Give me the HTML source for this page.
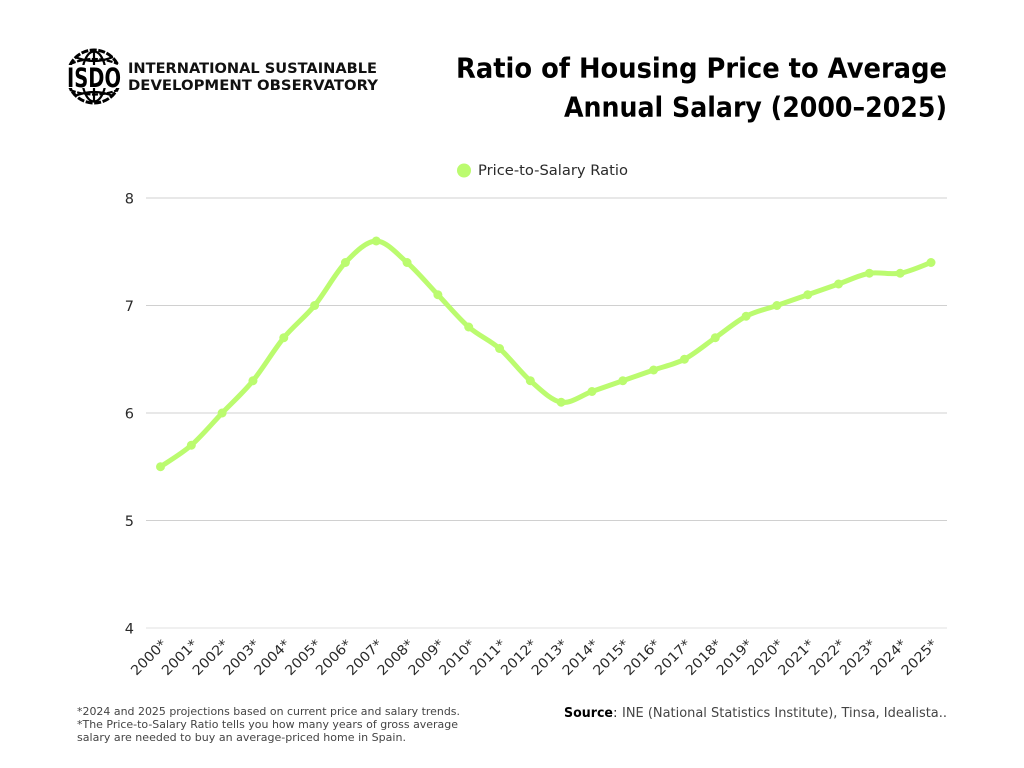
<!DOCTYPE html>
<html lang="en">
<head>
<meta charset="utf-8">
<title>Ratio of Housing Price to Average Annual Salary (2000–2025)</title>
<style>
html,body{margin:0;padding:0;background:#fff;}
body{width:1024px;height:768px;overflow:hidden;}
svg{display:block;}
text{font-family:"DejaVu Sans","Liberation Sans",sans-serif;fill:#2a2a2a;}
</style>
</head>
<body>
<svg id="chart" width="1024" height="768" viewBox="0 0 1024 768" xmlns="http://www.w3.org/2000/svg">
  <rect x="0" y="0" width="1024" height="768" fill="#ffffff"/>

  <g>
    <circle cx="94" cy="76.5" r="26.5" fill="none" stroke="#000" stroke-width="3" stroke-dasharray="7 1.6"/>
    <g fill="none" stroke="#000" stroke-width="2.2">
      <ellipse cx="94" cy="76.5" rx="12" ry="25"/>
      <path d="M94 51V66M94 88V102"/>
      <path d="M75 57Q94 65 113 57"/>
      <path d="M70 64Q94 54 118 64" stroke-dasharray="6 1.5"/>
      <path d="M75 96Q94 88 113 96"/>
      <path d="M70 90Q94 99 118 90" stroke-dasharray="6 1.5"/>
    </g>
    <rect x="66" y="65" width="56" height="23" fill="#fff"/>
    <text x="94" y="87" text-anchor="middle" font-size="27" font-weight="700" textLength="54" lengthAdjust="spacingAndGlyphs" style="fill:#000">ISDO</text>
  </g>
  <text x="128" y="73" font-size="14.5" font-weight="700" textLength="249" lengthAdjust="spacingAndGlyphs" style="fill:#111">INTERNATIONAL SUSTAINABLE</text>
  <text x="128" y="90" font-size="14.5" font-weight="700" textLength="250" lengthAdjust="spacingAndGlyphs" style="fill:#111">DEVELOPMENT OBSERVATORY</text>

  <text x="947" y="77.5" text-anchor="end" font-size="27.5" font-weight="700" textLength="491" lengthAdjust="spacingAndGlyphs" style="fill:#000">Ratio of Housing Price to Average</text>
  <text x="947" y="116.5" text-anchor="end" font-size="27.5" font-weight="700" textLength="383" lengthAdjust="spacingAndGlyphs" style="fill:#000">Annual Salary (2000–2025)</text>

  <g>
    <circle cx="464" cy="170.5" r="7" fill="#bbfb6f"/>
    <text x="478" y="175" font-size="14.5" textLength="150" lengthAdjust="spacingAndGlyphs">Price-to-Salary Ratio</text>
  </g>

  <g id="grid"></g>
  <g id="yticks"></g>
  <g id="xticks"></g>
  <g id="series"></g>

  <g font-size="11">
    <text x="77" y="715" textLength="383" lengthAdjust="spacingAndGlyphs" style="fill:#444">*2024 and 2025 projections based on current price and salary trends.</text>
    <text x="77" y="728" textLength="381" lengthAdjust="spacingAndGlyphs" style="fill:#444">*The Price-to-Salary Ratio tells you how many years of gross average</text>
    <text x="77" y="741" textLength="329" lengthAdjust="spacingAndGlyphs" style="fill:#444">salary are needed to buy an average-priced home in Spain.</text>
  </g>

  <text x="564" y="717" font-size="13.5" font-weight="700" textLength="49" lengthAdjust="spacingAndGlyphs" style="fill:#000">Source</text>
  <text x="613" y="717" font-size="13.5">:</text>
  <text x="622" y="717" font-size="13.5" textLength="325" lengthAdjust="spacingAndGlyphs" style="fill:#444">INE (National Statistics Institute), Tinsa, Idealista..</text>
</svg>

<script>
const categories = ["2000*","2001*","2002*","2003*","2004*","2005*","2006*","2007*","2008*","2009*","2010*","2011*","2012*","2013*","2014*","2015*","2016*","2017*","2018*","2019*","2020*","2021*","2022*","2023*","2024*","2025*"];
const ratioValues = [5.5,5.7,6.0,6.3,6.7,7.0,7.4,7.6,7.4,7.1,6.8,6.6,6.3,6.1,6.2,6.3,6.4,6.5,6.7,6.9,7.0,7.1,7.2,7.3,7.3,7.4];
const yTicks = [4,5,6,7,8];

const NS = 'http://www.w3.org/2000/svg';
const xFirst = 160.5, xStep = 30.82;
const yBase = 628, yPerUnit = 107.5, yMin = 4;
function xScale(i){ return xFirst + i * xStep; }
function yScale(v){ return yBase - (v - yMin) * yPerUnit; }

const grid = document.getElementById('grid');
const yLabels = document.getElementById('yticks');
yTicks.forEach(function(t){
  const line = document.createElementNS(NS, 'line');
  
  
  line.setAttribute('x1', 146);
  line.setAttribute('x2', 947);
  line.setAttribute('y1', yScale(t));
  line.setAttribute('y2', yScale(t));
  line.setAttribute('stroke', t === 4 ? '#e2e2e2' : '#d0d0d0');
  line.setAttribute('stroke-width', 1);
  grid.appendChild(line);
  const label = document.createElementNS(NS, 'text');
  
  
  label.setAttribute('x', 134);
  label.setAttribute('y', yScale(t) + 5.5);
  label.setAttribute('text-anchor', 'end');
  label.setAttribute('font-size', 14.5);
  label.textContent = t;
  yLabels.appendChild(label);
});

const xLabels = document.getElementById('xticks');
categories.forEach(function(c, i){
  const label = document.createElementNS(NS, 'text');
  const lx = xScale(i) + 7, ly = 645;
  
  
  label.setAttribute('x', lx);
  label.setAttribute('y', ly);
  label.setAttribute('text-anchor', 'end');
  label.setAttribute('font-size', 13.5);
  label.setAttribute('textLength', 44);
  label.setAttribute('lengthAdjust', 'spacingAndGlyphs');
  label.setAttribute('transform', 'rotate(-45 ' + lx + ' ' + ly + ')');
  label.textContent = c;
  xLabels.appendChild(label);
});

const series = document.getElementById('series');
const pts = ratioValues.map(function(v, i){ return [xScale(i), yScale(v)]; });
let d = 'M' + pts[0][0] + ' ' + pts[0][1];
const tension = 0.16;
for (let i = 0; i < pts.length - 1; i++) {
  const p0 = pts[Math.max(i - 1, 0)], p1 = pts[i], p2 = pts[i + 1], p3 = pts[Math.min(i + 2, pts.length - 1)];
  const c1x = p1[0] + (p2[0] - p0[0]) * tension, c1y = p1[1] + (p2[1] - p0[1]) * tension;
  const c2x = p2[0] - (p3[0] - p1[0]) * tension, c2y = p2[1] - (p3[1] - p1[1]) * tension;
  d += 'C' + c1x + ' ' + c1y + ' ' + c2x + ' ' + c2y + ' ' + p2[0] + ' ' + p2[1];
}
const path = document.createElementNS(NS, 'path');


path.setAttribute('d', d);
path.setAttribute('fill', 'none');
path.setAttribute('stroke', '#bbfb6f');
path.setAttribute('stroke-width', 5);
path.setAttribute('stroke-linejoin', 'round');
path.setAttribute('stroke-linecap', 'round');
series.appendChild(path);

pts.forEach(function(p){
  const dot = document.createElementNS(NS, 'circle');
  
  
  dot.setAttribute('cx', p[0]);
  dot.setAttribute('cy', p[1]);
  dot.setAttribute('r', 4.5);
  dot.setAttribute('fill', '#bbfb6f');
  series.appendChild(dot);
});
</script>
</body>
</html>
